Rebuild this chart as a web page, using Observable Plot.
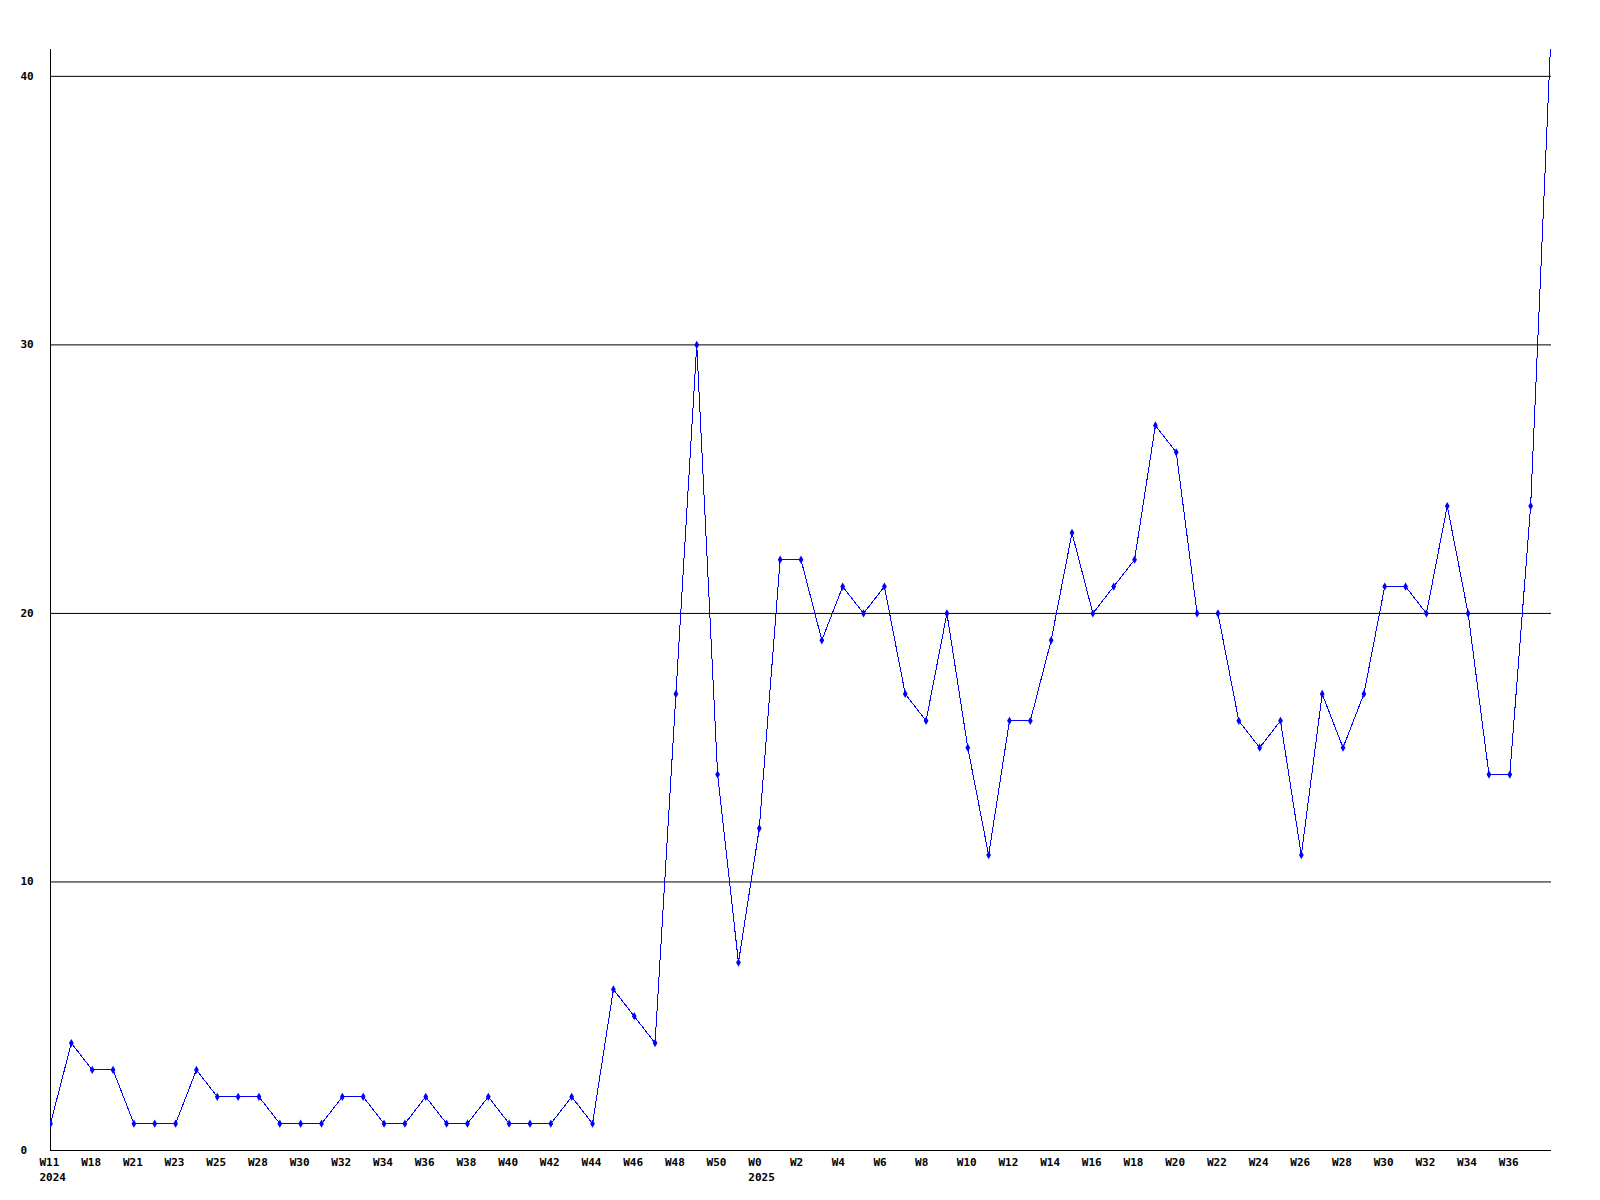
<!DOCTYPE html>
<html><head><meta charset="utf-8">
<script src="https://cdn.jsdelivr.net/npm/d3@7"></script>
<script src="https://cdn.jsdelivr.net/npm/@observablehq/plot@0.6"></script>
<style>
html,body{margin:0;padding:0;background:#fff;}
</style>
</head><body><div id="chart"></div>
<script>
const values = [1,4,3,3,1,1,1,3,2,2,
  2,1,1,1,2,2,1,1,2,1,
  1,2,1,1,1,2,1,6,5,4,
  17,30,14,7,12,22,22,19,21,20,
  21,17,16,20,15,11,16,16,19,23,
  20,21,22,27,26,20,20,16,15,16,
  11,17,15,17,21,21,20,24,20,14,
  14,24,42];
const xTickLabels = ["W11\n2024","W18","W21","W23","W25","W28","W30","W32","W34","W36","W38","W40","W42",
  "W44","W46","W48","W50","W0\n2025","W2","W4","W6","W8","W10","W12","W14","W16","W18","W20",
  "W22","W24","W26","W28","W30","W32","W34","W36"];
const yTicks = [0,10,20,30,40];

const data = values.map((v, i) => ({i, v}));
const tickPos = xTickLabels.map((_, k) => k * 2);

const chart = Plot.plot({
  width: 1600, height: 1200,
  marginLeft: 50, marginRight: 49, marginTop: 49, marginBottom: 50,
  style: {fontFamily: "'DejaVu Sans Mono', monospace", fontSize: "11px", fontWeight: "bold", background: "#fff", color: "#000"},
  x: {type: "linear", domain: [0, values.length - 1], label: null},
  y: {domain: [0, 41], label: null},
  marks: [
    Plot.ruleY(yTicks.filter(d => d > 0), {stroke: "#000", strokeWidth: 1}),
    Plot.ruleX([0], {stroke: "#000"}),
    Plot.ruleY([0], {stroke: "#000"}),
    Plot.line(data, {x: "i", y: "v", stroke: "#0000ff", strokeWidth: 1, clip: true, shapeRendering: "crispEdges"}),
    Plot.dot(data, {x: "i", y: "v", symbol: "diamond", r: 2.5, fill: "#0000ff", clip: true}),
    Plot.axisY(yTicks, {tickSize: 0, tickPadding: 0, textAnchor: "start", dx: -30, fill: "#000", label: null}),
    Plot.axisX(tickPos, {tickSize: 0, tickPadding: 0, tickFormat: d => xTickLabels[d / 2], textAnchor: "start", dx: -11, dy: 5, lineHeight: 1.36, fill: "#000", label: null})
  ]
});
document.getElementById("chart").appendChild(chart);
</script>
</body></html>
